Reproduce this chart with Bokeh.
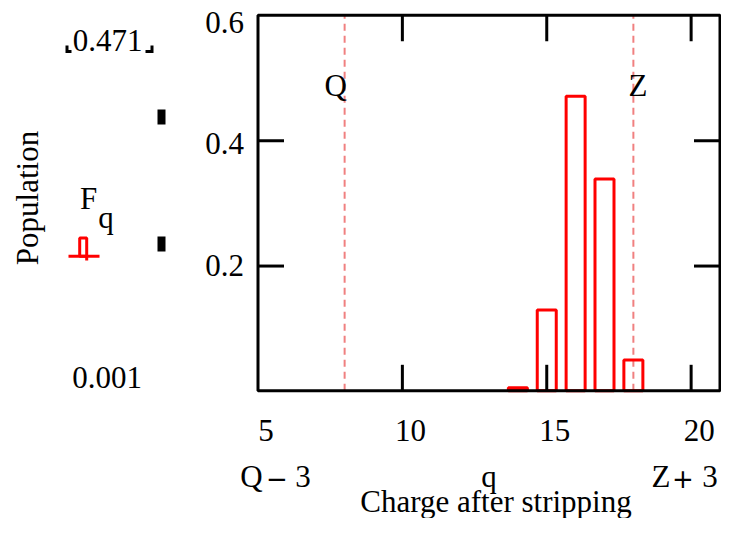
from bokeh.plotting import figure
from bokeh.models import Range1d
from bokeh.core.properties import value
from bokeh.embed import file_html
from bokeh.resources import INLINE

# ---------------- data ----------------
charges = [14, 15, 16, 17, 18]
population = [0.006, 0.130, 0.471, 0.339, 0.050]
Q = 8
Z = 18
x_min, x_max = Q - 3, Z + 3
y_min, y_max = 0.001, 0.6
x_ticks = [10, 15, 20]
x_tick_label_pos = [5, 10, 15, 20]
x_tick_labels = ["5", "10", "15", "20"]
y_ticks = [0.2, 0.4]
y_tick_label_pos = [0.2, 0.4, 0.6]
y_tick_labels = ["0.2", "0.4", "0.6"]
x_title = "Charge after stripping"
y_title = "Population"
trace_name = ("F", "q")
x_var = "q"

# ---------------- layout (pixels on the canvas) ----------------
W, H = 721, 518
X0, X1 = 257.5, 719.5      # pixel columns of x_min, x_max
Y0, Y1 = 390.3, 14.8       # pixel rows of y_min, y_max
kx = (X1 - X0) / (x_max - x_min)
ky = (Y0 - Y1) / (y_max - y_min)

def dx(px):
    return x_min + (px - X0) / kx

def dy(py):
    return y_min + (Y0 - py) / ky

SERIF = value("Liberation Serif")
SANS_B = value("DejaVu Sans")
FSZ = 31
CORR = 0.316 * FSZ   # renderer puts the alphabetic baseline this far below the anchor

p = figure(width=W, height=H, output_backend="svg", toolbar_location=None,
           x_range=Range1d(dx(0), dx(W)), y_range=Range1d(dy(H), dy(0)),
           min_border=0, x_axis_location=None, y_axis_location=None)
p.background_fill_color = "white"
p.border_fill_color = "white"
p.outline_line_color = None
p.grid.visible = False

# dashed markers at Q and Z
p.segment(x0=[Q, Z], y0=y_min, x1=[Q, Z], y1=y_max, line_color="#f08080",
          line_width=2, line_dash="7 5")

# bars (outlined)
p.vbar(x=charges, top=population, bottom=y_min, width=19 / kx,
       fill_color=None, line_color="#ff0000", line_width=3)

# plot box
p.quad(left=x_min, right=x_max, bottom=y_min, top=y_max, fill_color=None,
       line_color="black", line_width=3)

# inward ticks on all four sides
TL = 26
p.segment(x0=x_ticks, y0=y_min, x1=x_ticks, y1=dy(Y0 - TL), line_color="black", line_width=3)
p.segment(x0=x_ticks, y0=y_max, x1=x_ticks, y1=dy(Y1 + TL), line_color="black", line_width=3)
p.segment(x0=x_min, y0=y_ticks, x1=dx(X0 + TL), y1=y_ticks, line_color="black", line_width=3)
p.segment(x0=x_max, y0=y_ticks, x1=dx(X1 - TL), y1=y_ticks, line_color="black", line_width=3)

def txt(xs, ys, texts, align="center", xo=0, yo=0, angle=0.0, font=SERIF, size=FSZ, style="normal"):
    corr = 0.316 * size
    if isinstance(yo, list):
        yo = [v - corr for v in yo]
    else:
        yo = yo - corr
    p.text(x=xs, y=ys, text=texts, x_offset=xo, y_offset=yo, angle=angle,
           text_font=font, text_font_size=value(f"{size}px"), text_color="black",
           text_align=align, text_baseline="alphabetic", text_font_style=style)

# x tick labels
txt(x_tick_label_pos, [y_min] * 4, x_tick_labels, xo=8, yo=49.7)
# y tick labels
txt([dx(243.5)] * 3, y_tick_label_pos, y_tick_labels, align="right", yo=[9.4, 12.8, 17.2])

# Q / Z labels inside the plot
txt([Q, Z], [y_max, y_max], ["Q", "Z"], xo=[-9, 4.6], yo=80.2)

# bottom labels: limits of the x range, the variable, the axis title
ROW = 486
txt([dx(251)], [dy(ROW)], ["Q"])
txt([dx(276.5)], [dy(ROW)], ["\u2212"], font=SANS_B, size=26)
txt([dx(302.5)], [dy(ROW)], ["3"])
txt([(x_min + x_max) / 2], [dy(ROW)], [x_var])
txt([dx(660.5)], [dy(ROW)], ["Z"])
txt([dx(682.5)], [dy(ROW)], ["+"], font=SANS_B, size=26)
txt([dx(709.5)], [dy(ROW)], ["3"])
txt([(x_min + x_max) / 2], [dy(511)], [x_title], xo=7)

# left side: limits, trace name, axis title
txt([dx(107)], [dy(49.5)], [f"{max(population):.3f}"])
txt([dx(106.5)], [dy(387)], [f"{y_min:.3f}"])
p.text(x=[dx(36.5 - CORR)], y=[dy(197.5)], text=[y_title], angle=1.5707963267948966,
       text_font=SERIF, text_font_size=value(f"{FSZ}px"), text_color="black",
       text_align="center", text_baseline="alphabetic")
txt([dx(88)], [dy(208)], [trace_name[0]])
txt([dx(105.5)], [dy(227)], [trace_name[1]])

# Mathcad placeholder brackets around the upper limit
p.patches(xs=[[dx(v) for v in (65, 68, 68, 71, 71, 65)],
              [dx(v) for v in (150, 153, 153, 145, 145, 150)]],
          ys=[[dy(v) for v in (45, 45, 49.5, 49.5, 52.5, 52.5)],
              [dy(v) for v in (45, 45, 52.5, 52.5, 49.5, 49.5)]],
          fill_color="black", line_color=None)
# placeholder boxes
p.quad(left=dx(157), right=dx(165), top=[dy(109), dy(236)], bottom=[dy(124), dy(251)],
       fill_color="black", line_color=None)
# trace legend symbol
p.segment(x0=dx(68), y0=dy(255.7), x1=dx(99), y1=dy(255.7), line_color="#ff0000", line_width=3)
p.quad(left=dx(79.2), right=dx(86.2), top=dy(237.5), bottom=dy(255.7),
       fill_color=None, line_color="#ff0000", line_width=3)
p.segment(x0=dx(86.2), y0=dy(255.7), x1=dx(86.2), y1=dy(260), line_color="#ff0000", line_width=3)

open("out.html", "w").write(file_html(p, INLINE))
